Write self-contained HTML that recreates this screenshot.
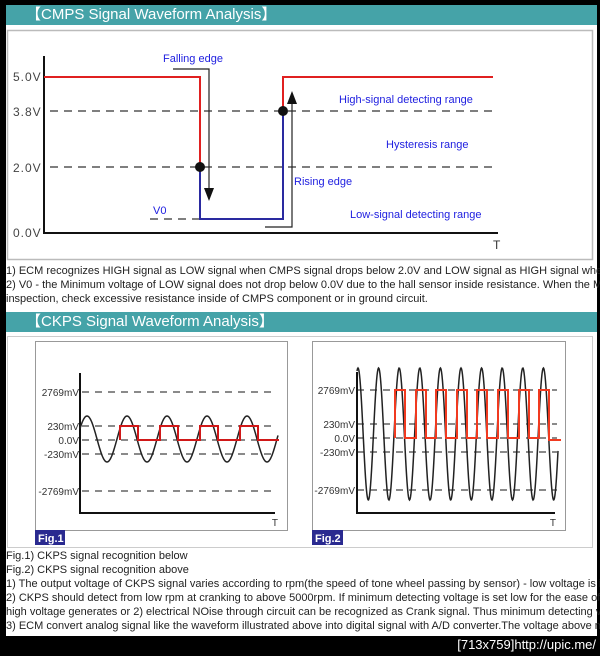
<!DOCTYPE html>
<html><head><meta charset="utf-8"><style>
html,body{margin:0;padding:0;background:#000;}
body{width:600px;height:656px;position:relative;overflow:hidden;font-family:"Liberation Sans",Arial,sans-serif;}
.page{position:absolute;left:6px;top:5px;width:591px;height:631px;background:#fff;}
.hdr{position:absolute;left:0;width:591px;height:20px;background:#45a3a8;color:#fff;font-size:15px;line-height:20px;}
.t{position:absolute;left:0;font-size:11px;color:#222;white-space:nowrap;line-height:14px;}
.foot{position:absolute;right:4px;top:637px;color:#fff;font-size:13px;font-family:"Liberation Sans Narrow","Liberation Sans",sans-serif;}
</style></head><body>
<div class="page">
<div class="hdr" style="top:0"><span style="padding-left:20px">【CMPS Signal Waveform Analysis】</span></div>
<div class="t" style="top:259px">1) ECM recognizes HIGH signal as LOW signal when CMPS signal drops below 2.0V and LOW signal as HIGH signal when</div>
<div class="t" style="top:273px">2) V0 - the Minimum voltage of LOW signal does not drop below 0.0V due to the hall sensor inside resistance. When the MIL</div>
<div class="t" style="top:287px">inspection, check excessive resistance inside of CMPS component or in ground circuit.</div>
<div class="hdr" style="top:307px"><span style="padding-left:20px">【CKPS Signal Waveform Analysis】</span></div>
<div class="t" style="top:544px">Fig.1) CKPS signal recognition below</div>
<div class="t" style="top:558px">Fig.2) CKPS signal recognition above</div>
<div class="t" style="top:572px">1) The output voltage of CKPS signal varies according to rpm(the speed of tone wheel passing by sensor) - low voltage is in</div>
<div class="t" style="top:586px">2) CKPS should detect from low rpm at cranking to above 5000rpm. If minimum detecting voltage is set low for the ease of s</div>
<div class="t" style="top:600px">high voltage generates or 2) electrical NOise through circuit can be recognized as Crank signal. Thus minimum detecting vo</div>
<div class="t" style="top:614px">3) ECM convert analog signal like the waveform illustrated above into digital signal with A/D converter.The voltage above min</div>
</div>
<svg width="600" height="656" style="position:absolute;left:0;top:0" font-family="Liberation Sans, Arial, sans-serif">
<rect x="7.5" y="30.5" width="585" height="229" fill="none" stroke="#bbb" stroke-width="1.5"/>
<g stroke="#555" stroke-width="1.5" stroke-dasharray="8,6" fill="none">
<line x1="50" y1="111" x2="493" y2="111"/>
<line x1="50" y1="167" x2="493" y2="167"/>
<line x1="150" y1="219" x2="200" y2="219"/>
</g>
<path d="M44 56 V233 H498" stroke="#111" stroke-width="2" fill="none"/>
<path d="M44 77 H200 V167" stroke="#e02020" stroke-width="2" fill="none"/>
<path d="M200 167 V219 H283 V111" stroke="#2a2aa0" stroke-width="2" fill="none"/>
<path d="M283 111 V77 H493" stroke="#e02020" stroke-width="2" fill="none"/>
<circle cx="200" cy="167" r="5" fill="#111"/><circle cx="283" cy="111" r="5" fill="#111"/>
<path d="M173 69 H209 V195" stroke="#222" stroke-width="1.2" fill="none"/>
<path d="M204 188 L209 201 L214 188Z" fill="#111"/>
<path d="M265 227 H292 V100" stroke="#222" stroke-width="1.2" fill="none"/>
<path d="M287 104 L292 91 L297 104Z" fill="#111"/>
<g font-size="12" fill="#444" letter-spacing="1"><text x="13" y="81">5.0V</text><text x="13" y="116">3.8V</text><text x="13" y="172">2.0V</text><text x="13" y="237">0.0V</text></g>
<text x="493" y="249" font-size="12" fill="#333">T</text>
<g font-size="11" fill="#2020e0"><text x="163" y="62">Falling edge</text><text x="294" y="185">Rising edge</text><text x="153" y="214">V0</text>
<text x="339" y="103">High-signal detecting range</text><text x="386" y="148">Hysteresis range</text><text x="350" y="218">Low-signal detecting range</text></g>
<rect x="7.5" y="336.5" width="585" height="211" fill="none" stroke="#ccc"/>
<rect x="35.5" y="341.5" width="252" height="189" fill="none" stroke="#999"/>
<rect x="312.5" y="341.5" width="253" height="189" fill="none" stroke="#999"/>
<g stroke="#444" stroke-width="1.2" stroke-dasharray="7,6">
<line x1="82" y1="392" x2="277" y2="392"/><line x1="82" y1="426" x2="277" y2="426"/><line x1="82" y1="440" x2="277" y2="440"/><line x1="82" y1="454" x2="277" y2="454"/><line x1="82" y1="491" x2="277" y2="491"/>
<line x1="357" y1="390" x2="557" y2="390"/><line x1="357" y1="424" x2="557" y2="424"/><line x1="357" y1="438" x2="557" y2="438"/><line x1="357" y1="452" x2="557" y2="452"/><line x1="357" y1="490" x2="557" y2="490"/>
</g>
<path d="M80 373 V513 H275" stroke="#111" stroke-width="2" fill="none"/>
<path d="M357 372 V513 H555" stroke="#111" stroke-width="2" fill="none"/>
<path id="s1" stroke="#222" stroke-width="1.5" fill="none" d=""/>
<path id="s2" stroke="#222" stroke-width="1.5" fill="none" d=""/>
<path d="M120 440 V426 H138 V440 H160 V426 H178 V440 H200 V426 H218 V440 H240 V426 H258 V440 H279" stroke="#d01818" stroke-width="2" fill="none"/>
<path d="M395 438 V390 H405 V438 H416 V390 H426 V438 H436 V390 H446 V438 H457 V390 H467 V438 H477 V390 H487 V438 H498 V390 H508 V438 H519 V390 H529 V438 H539 V390 H549 V440 H561" stroke="#f03a20" stroke-width="2" fill="none"/>
<g font-size="10" fill="#333" text-anchor="end">
<text x="79" y="396">2769mV</text><text x="79" y="430">230mV</text><text x="79" y="444">0.0V</text><text x="79" y="458">-230mV</text><text x="79" y="495">-2769mV</text>
<text x="355" y="394">2769mV</text><text x="355" y="428">230mV</text><text x="355" y="442">0.0V</text><text x="355" y="456">-230mV</text><text x="355" y="494">-2769mV</text>
<text x="278" y="526">T</text><text x="556" y="526">T</text></g>
<rect x="35" y="530" width="30" height="15" fill="#2a2a90"/><text x="38" y="542" font-size="11" font-weight="bold" fill="#fff">Fig.1</text>
<rect x="312" y="530" width="31" height="15" fill="#2a2a90"/><text x="315" y="542" font-size="11" font-weight="bold" fill="#fff">Fig.2</text>
</svg>
<div class="foot">[713x759]http://upic.me/</div>
<script>
function sine(x0,x1,cy,a,peak,per){var d="";for(var x=x0;x<=x1;x+=0.5){var y=cy-a*Math.cos(2*Math.PI*(x-peak)/per);d+=(x==x0?"M":"L")+x.toFixed(1)+" "+y.toFixed(1);}return d;}
document.getElementById("s1").setAttribute("d",sine(80,278,439,23,87,40));
document.getElementById("s2").setAttribute("d",sine(357,558,434,66,358,20.6));
</script>
</body></html>
